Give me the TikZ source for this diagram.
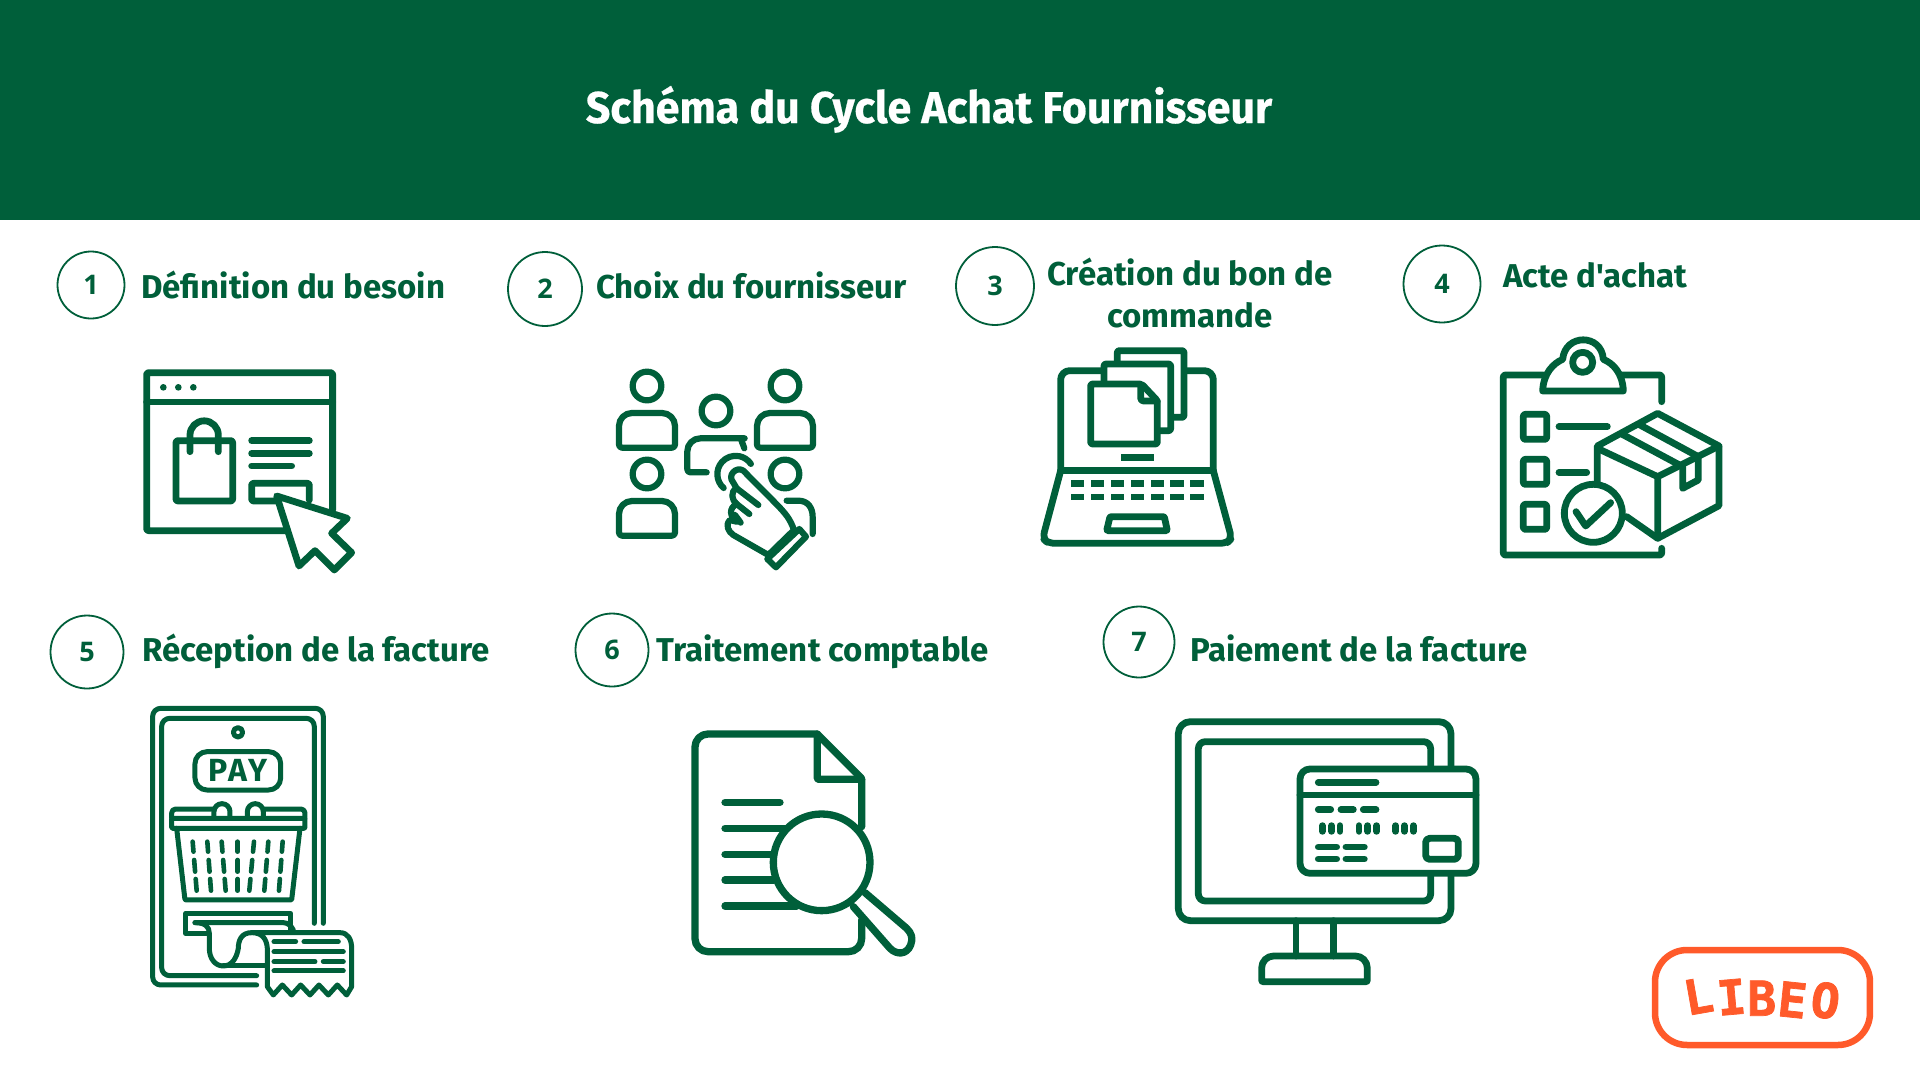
\documentclass[tikz,border=0pt]{standalone}
\usepackage{fontspec}
\usepackage{graphicx}
\usepackage{xcolor}
\setmainfont{Fira Sans}
\newfontfamily\stepfont{Fira Sans}
\newfontfamily\titlefont[FakeStretch=0.965,BoldFeatures={FakeBold=0.5}]{Fira Sans}
\newfontfamily\digitfont{Open Sans}
\newfontfamily\logofont[BoldFeatures={FakeBold=1.5}]{DejaVu Sans Mono}
\definecolor{libgreen}{HTML}{005F3A}
\definecolor{liborange}{HTML}{FF5A2A}
\tikzset{
    iconline/.style={draw=libgreen,line width=#1,line cap=round,line join=round},
    iconline/.default=6.8pt,
    dotfill/.style={fill=libgreen,draw=none},
    numcircle/.style={circle,draw=libgreen,line width=1.8pt,text=libgreen,inner sep=0pt,minimum size=#1,font=\digitfont\bfseries\fontsize{27}{30}\selectfont},
    steptext/.style={text=libgreen,inner sep=0pt,font=\stepfont\bfseries\fontsize{33}{42}\selectfont},
    zoomed/.style={shift={(#1)},scale=0.3333},
}
\begin{document}
\begin{tikzpicture}[x=1pt,y=1pt,yscale=-1]
    \useasboundingbox (0,0) rectangle (1920,1080);
    \fill[white] (0,0) rectangle (1920,1080);
    \fill[libgreen] (0,0) rectangle (1920,220);
    \node[text=white,inner sep=0pt,anchor=base,font=\titlefont\bfseries\fontsize{44.5}{50}\selectfont] (title) at (929,123) {Schéma du Cycle Achat Fournisseur};

    \node[numcircle=67pt] (n1) at (91,285) {1};
    \node[numcircle=74pt] (n2) at (545,289) {2};
    \node[numcircle=78pt] (n3) at (995,286) {3};
    \node[numcircle=77pt] (n4) at (1442,284) {4};
    \node[numcircle=73pt] (n5) at (87,652) {5};
    \node[numcircle=73pt] (n6) at (612,650) {6};
    \node[numcircle=71pt] (n7) at (1139,642) {7};

    \node[steptext,anchor=base west] (t1) at (141,298) {Définition du besoin};
    \node[steptext,anchor=base west] (t2) at (596,298) {Choix du fournisseur};
    \node[steptext,align=center] (t3) at (1190,293) {Création du bon de\\commande};
    \node[steptext,anchor=base west] (t4) at (1503,287) {Acte d'achat};
    \node[steptext,anchor=base west] (t5) at (142,661) {Réception de la facture};
    \node[steptext,anchor=base west] (t6) at (656,661) {Traitement comptable};
    \node[steptext,anchor=base west] (t7) at (1190,661) {Paiement de la facture};

    % 1
    \begin{scope}[zoomed={100,320}]
        \draw[iconline,rounded corners=2pt] (698,570) -- (698,158) -- (140,158) -- (140,632) -- (560,632);
        \draw[iconline] (140,246) -- (698,246);
        \foreach \dotx in {190,235,280} \fill[dotfill] (\dotx,202) circle (10);
        \draw[iconline,rounded corners=2pt] (228,362) rectangle (398,543);
        \draw[iconline] (270,395) -- (270,345) arc (180:360:42.5) -- (355,395);
        \draw[iconline] (455,362) -- (628,362) (455,400) -- (628,400) (455,438) -- (575,438);
        \draw[iconline,rounded corners=2pt] (530,543) -- (455,543) -- (455,490) -- (628,490) -- (628,540);
        \draw[iconline,fill=white] (530,528) -- (742,595) -- (695,640) -- (755,698) -- (703,750) -- (645,692) -- (597,738) -- cycle;
    \end{scope}

    % 2
    \begin{scope}[zoomed={590,340}]
        \foreach \hx/\hy in {171/138,585/138,171/402} {
            \draw[iconline=6.2pt] (\hx,\hy) circle (43);
            \draw[iconline=6.2pt,rounded corners=3pt] (\hx,\hy+185) -- (\hx-84,\hy+185) [rounded corners=13pt] -- (\hx-84,\hy+81) -- (\hx+84,\hy+81) [rounded corners=3pt] -- (\hx+84,\hy+185) -- cycle;
        }
        \draw[iconline=6.2pt] (378,213) circle (43);
        \draw[iconline=6.2pt] (585,402) circle (43);
        \draw[iconline=6.2pt,rounded corners=13pt] (350,397) [rounded corners=3pt] -- (292,397) [rounded corners=13pt] -- (292,295) -- (425,295) .. controls (445,295) and (460,310) .. (463,325);
        \draw[iconline=6.2pt] (590,482) -- (625,482) .. controls (655,482) and (668,505) .. (668,530) -- (668,582);
        \draw[iconline=6.2pt] (401,444) arc (131:326:55);
        \draw[iconline=6.2pt,fill=white] (612,570) .. controls (600,535) and (585,520) .. (565,498) -- (460,392) .. controls (440,378) and (410,405) .. (430,428) -- (440,445) .. controls (420,455) and (425,480) .. (440,492) .. controls (415,505) and (420,530) .. (440,545) -- (420,540) .. controls (405,555) and (415,575) .. (430,585) -- (535,645) -- cycle;
        \draw[iconline=6.2pt] (440,445) -- (505,495) (440,492) -- (478,522) (435,525) -- (452,548);
        \draw[iconline=6.2pt,fill=white] (628,567) -- (648,590) -- (558,682) -- (532,657) -- cycle;
    \end{scope}

    % 3
    \begin{scope}[zoomed={1020,330}]
        \draw[iconline,rounded corners=9pt] (250,122) -- (122,122) -- (122,422);
        \draw[iconline,rounded corners=9pt] (495,122) -- (580,122) -- (580,422);
        \draw[iconline] (122,422) -- (580,422);
        \draw[iconline,rounded corners=6pt] (122,422) -- (68,625) -- (85,640) -- (620,640) -- (635,625) -- (580,422);
        \foreach \keyx in {152,212,272,332,392,451,511}
            \foreach \keyy in {451,491}
                \fill[dotfill] (\keyx,\keyy) rectangle ++(40,20);
        \fill[dotfill] (302,372) rectangle (402,392);
        \draw[iconline,rounded corners=1pt] (270,560) -- (433,560) -- (442,602) -- (260,602) -- cycle;
        \draw[iconline,rounded corners=2pt] (292,100) -- (292,62) -- (492,62) -- (492,262) -- (460,262);
        \draw[iconline,rounded corners=2pt] (252,155) -- (252,102) -- (452,102) -- (452,302) -- (420,302);
        \draw[iconline,fill=white,rounded corners=2pt] (212,162) -- (365,162) -- (412,212) -- (412,342) -- (212,342) -- cycle;
        \draw[iconline,rounded corners=3pt] (362,165) -- (362,213) -- (412,213);
    \end{scope}

    % 4
    \begin{scope}[zoomed={1490,320}]
        \draw[iconline,rounded corners=2pt] (160,165) -- (40,165) -- (40,705) -- (515,705) -- (515,685);
        \draw[iconline,rounded corners=2pt] (395,165) -- (515,165) -- (515,245);
        \draw[iconline,fill=white] (158,213) .. controls (160,160) and (190,130) .. (218,118) .. controls (225,40) and (335,40) .. (340,118) .. controls (370,130) and (398,160) .. (400,213) -- cycle;
        \draw[iconline] (278,127) circle (30);
        \foreach \boxy in {283,418,553}
            \draw[iconline,rounded corners=2pt] (100,\boxy) rectangle (170,\boxy+75);
        \draw[iconline] (207,320) -- (352,320) (207,457) -- (290,457);
        \draw[iconline] (322,490) -- (322,378) -- (503,280) -- (687,378) -- (687,557) -- (503,655) -- (410,590);
        \draw[iconline] (322,385) -- (503,470) -- (687,378) (503,470) -- (503,655);
        \draw[iconline] (395,342) -- (578,440) -- (578,505) -- (625,480) -- (625,410) -- (450,315);
        \draw[iconline,fill=white] (310,580) circle (87);
        \draw[iconline] (258,575) -- (287,618) -- (362,548);
    \end{scope}

    % 5
    \begin{scope}[zoomed={130,700}]
        \draw[iconline=5pt,rounded corners=8pt] (380,855) -- (68,855) -- (68,25) -- (580,25) -- (580,670);
        \draw[iconline=5pt,rounded corners=8pt] (380,827) -- (95,827) -- (95,55) -- (553,55) -- (553,670);
        \draw[iconline=5pt] (324,97) circle (14);
        \draw[iconline=5pt,rounded corners=12pt] (195,155) rectangle (452,270);
        \draw[iconline=5pt] (252,350) -- (252,335) arc (180:360:24) -- (300,350);
        \draw[iconline=5pt] (352,350) -- (352,335) arc (180:360:24) -- (400,350);
        \draw[iconline=5pt,rounded corners=1pt] (125,355) rectangle (525,385);
        \draw[iconline=5pt,rounded corners=4pt] (125,355) -- (125,327) -- (250,327) (400,327) -- (525,327) -- (525,355);
        \draw[iconline=5pt,rounded corners=1pt] (140,385) -- (165,600) -- (485,600) -- (510,385);
        \foreach \xt/\xb in {188/200,232/243,275/287,323/323,372/358,415/403,458/447}
            \foreach \ya/\yb in {425/455,480/515,537/572}
                \draw[iconline=4.6pt] ({\xt+(\xb-\xt)*(\ya-425)/147},\ya) -- ({\xt+(\xb-\xt)*(\yb-425)/147},\yb);
        \draw[iconline=5pt] (235,700) -- (167,700) -- (167,640) -- (482,640) -- (482,690);
        \draw[iconline=5pt] (195,668) -- (460,668) .. controls (475,668) and (485,680) .. (490,690);
        \draw[iconline=5pt] (365,698) .. controls (335,698) and (325,720) .. (325,745) .. controls (320,775) and (305,798) .. (280,798) .. controls (255,798) and (238,775) .. (238,745) -- (238,700) .. controls (238,680) and (225,668) .. (195,668);
        \draw[iconline=5pt] (280,798) -- (412,798);
        \draw[iconline=5pt,fill=white] (412,860) -- (412,745) .. controls (410,715) and (395,698) .. (365,698) -- (630,698) .. controls (655,698) and (665,720) .. (665,745) -- (665,860) -- (650,885) -- (622,855) -- (595,885) -- (567,855) -- (540,885) -- (512,855) -- (485,885) -- (457,855) -- (430,885) -- cycle;
        \draw[iconline=5pt] (432,725) -- (497,725) (522,725) -- (625,725) (432,755) -- (640,755) (432,785) -- (555,785) (580,785) -- (640,785) (432,813) -- (640,813);
        \node[text=libgreen,inner sep=0pt,font=\bfseries\fontsize{32}{34}\selectfont\addfontfeatures{LetterSpace=8}] (pay) at (324,212) {PAY};
    \end{scope}

    % 6
    \begin{scope}[zoomed={680,720}]
        \draw[iconline=7.3pt,rounded corners=13pt] (545,600) -- (545,695) -- (45,695) -- (45,42) [rounded corners=1pt] -- (412,42) -- (545,175) -- (545,320);
        \draw[iconline=7.3pt,rounded corners=1pt] (412,42) -- (412,178) -- (545,178);
        \draw[iconline=7.3pt] (135,247) -- (300,247) (135,325) -- (320,325) (135,403) -- (275,403) (135,480) -- (280,480) (135,558) -- (350,558);
        \draw[iconline=7.3pt,fill=white] (520,560) -- (630,685) .. controls (650,705) and (680,705) .. (692,675) .. controls (700,655) and (695,640) .. (680,625) -- (555,518);
        \draw[iconline=7.3pt,fill=white] (425,427) circle (145);
    \end{scope}

    % 7
    \begin{scope}[zoomed={1160,710}]
        \draw[iconline,rounded corners=12pt] (55,35) rectangle (873,632);
        \draw[iconline,rounded corners=7pt] (115,95) rectangle (812,573);
        \draw[iconline] (408,632) -- (408,738) (520,632) -- (520,738);
        \draw[iconline,rounded corners=1pt] (305,815) [rounded corners=12pt] -- (305,738) -- (622,738) [rounded corners=1pt] -- (622,815) -- cycle;
        \draw[iconline,fill=white,rounded corners=10pt] (420,177) rectangle (948,490);
        \draw[iconline] (420,255) -- (948,255);
        \draw[iconline] (475,217) -- (648,217);
        \draw[iconline] (475,299) -- (512,299) (543,299) -- (580,299) (610,299) -- (648,299);
        \foreach \digx in {487,515,540,597,623,650,707,733,760}
            \draw[iconline] (\digx,347) -- (\digx,364);
        \draw[iconline] (475,411) -- (530,411) (558,411) -- (613,411) (475,447) -- (530,447) (558,447) -- (613,447);
        \draw[iconline,rounded corners=4pt] (797,385) rectangle (895,448);
    \end{scope}

    % logo
    \begin{scope}[zoomed={1640,930}]
        \draw[draw=liborange,line width=6.5pt,rounded corners=32pt] (45,60) rectangle (690,345);
        \node[text=liborange,inner sep=0pt,font=\logofont\bfseries\fontsize{48}{54}\selectfont] (logo) at (365,205) {\rotatebox{10}{L}\rotatebox{5}{I}\rotatebox{0}{B}\rotatebox{-6}{E}\rotatebox{-8}{O}};
    \end{scope}
\end{tikzpicture}
\end{document}
